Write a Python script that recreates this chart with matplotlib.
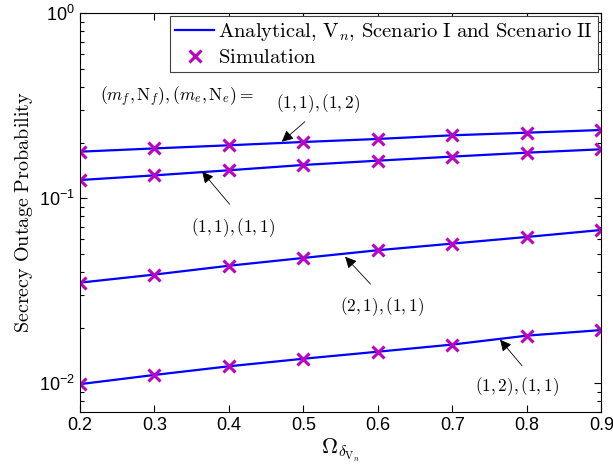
import numpy as np
import matplotlib
matplotlib.use('Agg')
import matplotlib.pyplot as plt
from matplotlib.ticker import LogLocator, NullFormatter

plt.rcParams['mathtext.fontset'] = 'custom'
plt.rcParams['mathtext.rm'] = 'Liberation Sans'
plt.rcParams['mathtext.it'] = 'Liberation Sans:italic'
plt.rcParams['font.family'] = 'Liberation Sans'

omega = [0.2, 0.3, 0.4, 0.5, 0.6, 0.7, 0.8, 0.9]

# secrecy outage probability for each (m_f, N_f), (m_e, N_e) case
sop_11_12 = [0.1786, 0.186, 0.1934, 0.2015, 0.2092, 0.219, 0.2262, 0.2339]
sop_11_11 = [0.1255, 0.133, 0.1417, 0.1514, 0.1597, 0.168, 0.1764, 0.184]
sop_21_11 = [0.035, 0.0387, 0.0432, 0.0476, 0.0524, 0.0569, 0.0618, 0.0674]
sop_12_11 = [0.0099, 0.0111, 0.01236, 0.01358, 0.01482, 0.0162, 0.0181, 0.0194]

curves = [sop_11_12, sop_11_11, sop_21_11, sop_12_11]
case_labels = [r'$(1,1),(1,2)$', r'$(1,1),(1,1)$', r'$(2,1),(1,1)$', r'$(1,2),(1,1)$']

CM = 'cm'
line_color = '#0000ff'
marker_color = '#c000c0'

fig = plt.figure(figsize=(6.13, 4.73), dpi=100)
ax = fig.add_axes([0.1305, 0.129, 0.8505, 0.843])

for i, sop in enumerate(curves):
    ax.semilogy(omega, sop, '-', color=line_color, linewidth=1.6,
                label=r'$\mathrm{Analytical,\,V}_n\mathrm{,\,Scenario\ I\ and\ Scenario\ II}$' if i == 0 else None)
for i, sop in enumerate(curves):
    ax.semilogy(omega, sop, 'x', color=marker_color, markersize=8, markeredgewidth=2.2,
                linestyle='none', label=r'$\mathrm{Simulation}$' if i == 0 else None)

ax.set_xlim(0.2, 0.9)
ax.set_ylim(0.007, 1)
ax.set_xticks(omega)
ax.set_xticklabels([f'{v:.1f}' for v in omega])
ax.yaxis.set_major_locator(LogLocator(base=10, numticks=5))
ax.yaxis.set_minor_locator(LogLocator(base=10, subs=np.arange(2, 10), numticks=20))
ax.yaxis.set_minor_formatter(NullFormatter())
ax.tick_params(which='both', direction='in', top=True, right=True, labelsize=13)
ax.tick_params(which='major', length=5, width=0.8)
ax.tick_params(which='minor', length=3, width=0.8)
for s in ax.spines.values():
    s.set_linewidth(0.8)

ax.set_ylabel(r'$\mathrm{Secrecy\ Outage\ Probability}$', fontsize=14.5,
              math_fontfamily=CM, labelpad=3)
ax.set_xlabel(r'$\Omega_{\delta_{\mathrm{V}_n}}$', fontsize=16,
              math_fontfamily=CM, labelpad=2)

leg = ax.legend(loc='upper right', bbox_to_anchor=(0.994, 0.993), fontsize=14.8,
                fancybox=False, edgecolor='#404040', framealpha=1,
                handlelength=1.9, handletextpad=0.2, borderpad=0.25,
                labelspacing=0.25, borderaxespad=0)
leg.get_frame().set_linewidth(0.8)
for t in leg.get_texts():
    t.set_math_fontfamily(CM)

ax.text(0.227, 0.3527, r'$(m_f,\mathrm{N}_f),(m_e,\mathrm{N}_e)=$', fontsize=12.5,
        math_fontfamily=CM, ha='left', va='center')

# arrow head on curve, arrow tail, label position
arrows = [
    ((0.471, 0.2022), (0.502, 0.2595), (0.520, 0.3234)),
    ((0.364, 0.1392), (0.401, 0.0928), (0.405, 0.0691)),
    ((0.556, 0.0483), (0.590, 0.0344), (0.6055, 0.02594)),
    ((0.764, 0.01721), (0.7935, 0.01245), (0.787, 0.00964)),
]
for (head, tail, pos), lab in zip(arrows, case_labels):
    ax.annotate('', xy=head, xytext=tail,
                arrowprops=dict(arrowstyle='-|>', color='k', lw=0.6,
                                mutation_scale=17, shrinkA=0, shrinkB=0))
    ax.text(pos[0], pos[1], lab, fontsize=12.3, math_fontfamily=CM,
            ha='center', va='center')

fig.savefig('out.png', dpi=100)
